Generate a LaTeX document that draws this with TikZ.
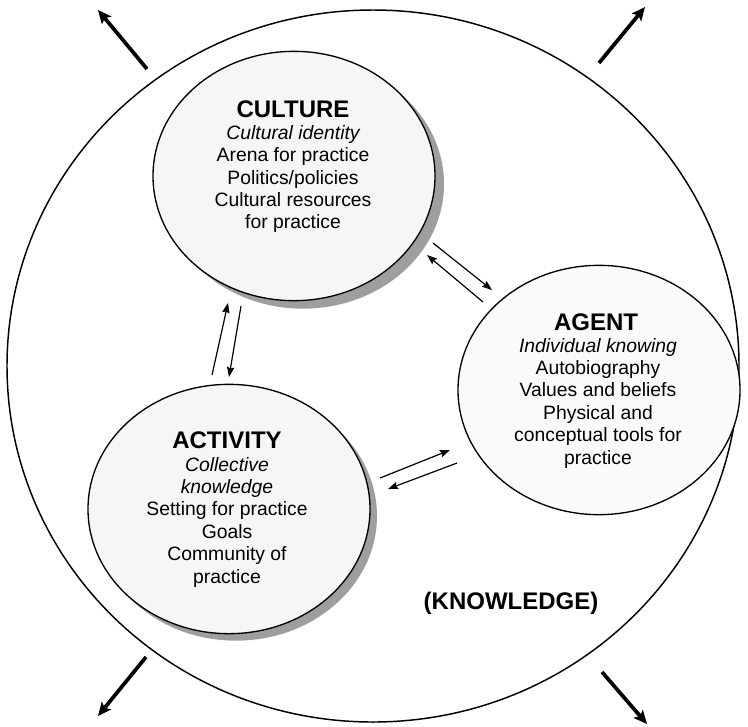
\documentclass[tikz,border=0pt]{standalone}
\usepackage{fontspec}
\setmainfont{Liberation Sans}
\usetikzlibrary{shapes.geometric, arrows.meta}
\begin{document}
\begin{tikzpicture}[x=0.75pt, y=-0.75pt,
  bigring/.style={ellipse, draw, line width=1.1pt, minimum width=549pt, minimum height=534pt, inner sep=0pt},
  sphere/.style={ellipse, draw, line width=1pt, fill=gray!7, minimum width=211.5pt, minimum height=187pt, inner sep=0pt},
  shadowdisc/.style={ellipse, fill=black!38, minimum width=211.5pt, minimum height=187pt, inner sep=0pt},
  outarrow/.style={line width=2.8pt, -{Stealth[length=10pt, width=9pt, inset=2pt]}},
  linkarrow/.style={line width=0.9pt, -{Stealth[length=7.5pt, width=5.5pt, inset=1pt]}},
  title/.style={font=\fontsize{18}{20}\selectfont\bfseries, inner sep=0pt},
  body/.style={font=\fontsize{14.5}{16.8}\selectfont, align=center, inner sep=0pt},
]
\useasboundingbox (0,0) rectangle (748,726);

% outer field of knowledge
\node[bigring] (world) at (373,366) {};

% drop shadows behind two of the spheres
\node[shadowdisc] (culshadow) at (303,184) {};
\node[shadowdisc] (actshadow) at (236,516) {};

% the three spheres
\node[sphere] (culture) at (294,176) {};
\node[sphere, fill=gray!4] (agent) at (599,390) {};
\node[sphere] (activity) at (229,509) {};

% texts
\node[title] (cultitle) at (293,109) {CULTURE};
\node[body] (culbody) at (293,179) {\itshape Cultural identity\\Arena for practice\\Politics/policies\\Cultural resources\\for practice};

\node[title] (agttitle) at (596,322) {AGENT};
\node[body] (agtbody) at (598,403) {\itshape Individual knowing\\Autobiography\\Values and beliefs\\Physical and\\conceptual tools for\\practice};

\node[title] (acttitle) at (227,440) {ACTIVITY};
\node[body] (actbody) at (227,522) {\itshape Collective\\\itshape knowledge\\Setting for practice\\Goals\\Community of\\practice};

\node[title, anchor=base] (knowledge) at (511,609) {(KNOWLEDGE)};

% end points of the arrows
\coordinate (tlA) at (147,69);  \coordinate (tlB) at (98,10);
\coordinate (trA) at (599,63);  \coordinate (trB) at (645,7);
\coordinate (blA) at (146,657); \coordinate (blB) at (98,716);
\coordinate (brA) at (602,672); \coordinate (brB) at (647,724);

\coordinate (ca1) at (433,243); \coordinate (ca2) at (492,290);
\coordinate (ac1) at (483,302); \coordinate (ac2) at (427,255);
\coordinate (va1) at (380,478); \coordinate (va2) at (450,450);
\coordinate (av1) at (457,463); \coordinate (av2) at (388,489);
\coordinate (up1) at (212,375); \coordinate (up2) at (228,303);
\coordinate (dn1) at (241,306); \coordinate (dn2) at (229,377);

% outward expansion
\draw[outarrow] (tlA) -- (tlB);
\draw[outarrow] (trA) -- (trB);
\draw[outarrow] (blA) -- (blB);
\draw[outarrow] (brA) -- (brB);

% exchanges between the spheres
\draw[linkarrow] (ca1) -- (ca2);
\draw[linkarrow] (ac1) -- (ac2);
\draw[linkarrow] (va1) -- (va2);
\draw[linkarrow] (av1) -- (av2);
\draw[linkarrow] (up1) -- (up2);
\draw[linkarrow] (dn1) -- (dn2);
\end{tikzpicture}
\end{document}
